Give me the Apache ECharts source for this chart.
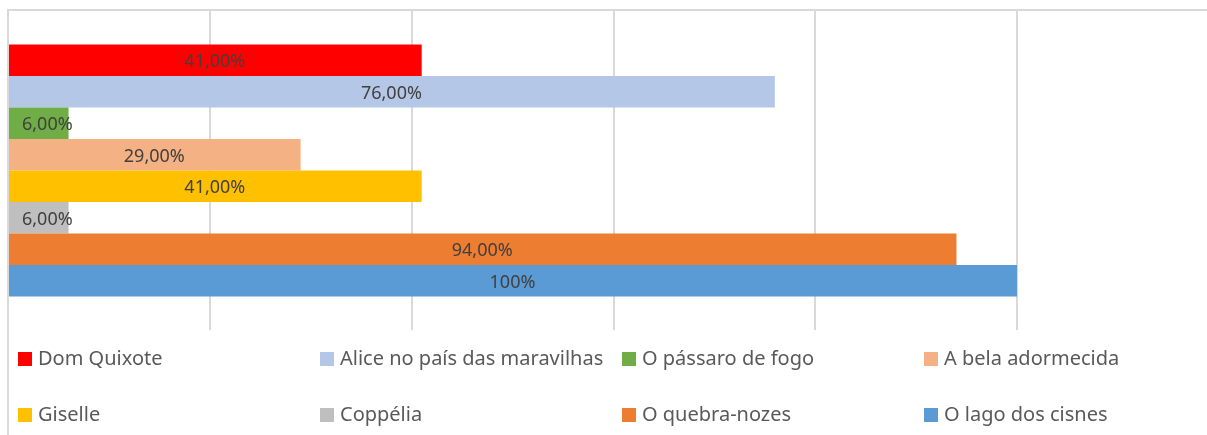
<!DOCTYPE html>
<html>
<head>
<meta charset="utf-8">
<script src="https://cdn.jsdelivr.net/npm/echarts@6/dist/echarts.min.js"></script>
<style>
  html, body { margin: 0; padding: 0; background: #fff; }
  #wrap { position: relative; width: 1207px; height: 435px; overflow: hidden; }
  #chart { position: absolute; left: 0; top: 0; width: 1207px; height: 435px; }
  #frame { position: absolute; left: 7px; top: 9px; width: 1210px; height: 440px;
           border-left: 2px solid #d9d9d9; border-top: 2px solid #d9d9d9; pointer-events: none; }
</style>
</head>
<body>
<div id="wrap">
  <div id="chart"></div>
  <div id="frame"></div>
</div>
<script>
// balés e percentuais
var names = ['Dom Quixote', 'Alice no país das maravilhas', 'O pássaro de fogo', 'A bela adormecida',
             'Giselle', 'Coppélia', 'O quebra-nozes', 'O lago dos cisnes'];
var values = [41, 76, 6, 29, 41, 6, 94, 100];
var colors = ['#FF0000', '#B4C7E7', '#70AD47', '#F4B183', '#FFC000', '#BFBFBF', '#ED7D31', '#5B9BD5'];
var categories = [''];

function fmt(v) {
    return v === 100 ? '100%' : v.toFixed(2).replace('.', ',') + '%';
}

var myChart = echarts.init(document.getElementById('chart'));

var series = names.map(function (n, i) {
    var small = values[i] < 10;
    return {
        name: n,
        type: 'bar',
        data: [values[i]],
        barGap: '0%',
        barCategoryGap: '21%',
        itemStyle: { color: colors[i] },
        label: {
            show: true,
            position: small ? 'insideLeft' : 'inside',
            distance: small ? 14 : 5,
            offset: [0, 2],
            color: '#404040',
            fontSize: 18,
            fontFamily: 'Noto Sans',
            formatter: function (p) { return fmt(p.value); }
        }
    };
});

// uma legenda por item, 4 colunas x 2 linhas
var legends = names.map(function (n, i) {
    return {
        left: 13 + (i % 4) * 302,
        top: i < 4 ? 344 : 400,
        data: [n],
        itemWidth: 14,
        itemHeight: 14,
        icon: 'rect',
        textStyle: { color: '#595959', fontSize: 20, fontFamily: 'Noto Sans', padding: [0, 0, 0, 1] }
    };
});

myChart.setOption({
    animation: false,
    grid: { left: 8, right: 190, top: 11, bottom: 105 },
    legend: legends,
    xAxis: {
        type: 'value',
        min: 0,
        max: 100,
        interval: 20,
        axisLabel: { show: false },
        axisLine: { show: false },
        axisTick: { show: false },
        splitLine: { lineStyle: { color: '#d9d9d9', width: 2 } }
    },
    yAxis: {
        type: 'category',
        inverse: true,
        data: categories,
        axisLine: { show: false },
        axisTick: { show: false },
        axisLabel: { show: false }
    },
    series: series
});
</script>
</body>
</html>
